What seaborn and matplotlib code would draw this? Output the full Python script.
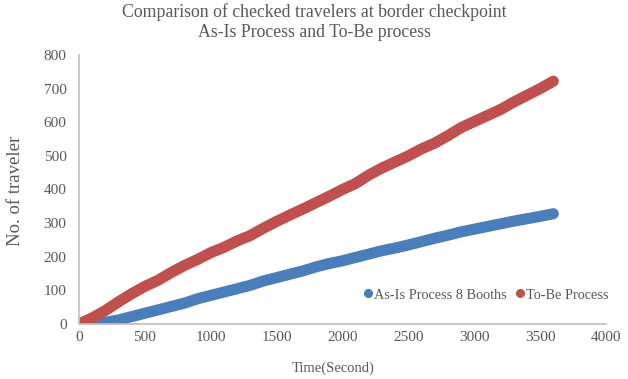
import matplotlib
matplotlib.use("Agg")
import matplotlib.pyplot as plt
import seaborn as sns
import pandas as pd
from matplotlib.lines import Line2D

sns.set_theme(style="white")
plt.rcParams['font.family'] = ['Liberation Serif', 'DejaVu Serif']

tobe_time = [0, 100, 200, 300, 400, 500, 600, 700, 800, 900, 1000, 1100, 1200, 1300,
             1400, 1500, 1600, 1700, 1800, 1900, 2000, 2100, 2200, 2300, 2400, 2500,
             2600, 2700, 2800, 2900, 3000, 3100, 3200, 3300, 3400, 3500, 3600]
tobe_count = [0, 18, 40, 66, 90, 112, 130, 153, 174, 192, 212, 228, 247, 263,
              285, 305, 324, 342, 361, 380, 400, 418, 443, 464, 482, 500,
              521, 538, 560, 584, 602, 620, 638, 660, 680, 700, 722]

asis_time = [130, 200, 300, 400, 500, 600, 700, 800, 900, 1000, 1100, 1200, 1300,
             1400, 1500, 1600, 1700, 1800, 1900, 2000, 2100, 2200, 2300, 2400, 2500,
             2600, 2700, 2800, 2900, 3000, 3100, 3200, 3300, 3400, 3500, 3600]
asis_count = [0, 5, 12, 22, 32, 42, 52, 62, 75, 85, 95, 105, 115,
              128, 138, 148, 158, 170, 180, 188, 198, 208, 218, 226, 235,
              245, 255, 264, 274, 282, 290, 298, 306, 313, 320, 328]

series_names = ["As-Is Process 8 Booths", "To-Be Process"]
colors = ["#4a7ebb", "#c0504d"]
x_ticks = [0, 500, 1000, 1500, 2000, 2500, 3000, 3500, 4000]
y_ticks = [0, 100, 200, 300, 400, 500, 600, 700, 800]

TXT = "#595959"
W, H = 628, 379

df = pd.concat([
    pd.DataFrame({"t": asis_time, "n": asis_count, "s": series_names[0]}),
    pd.DataFrame({"t": tobe_time, "n": tobe_count, "s": series_names[1]}),
])

fig = plt.figure(figsize=(W / 100, H / 100), dpi=100)
ax = fig.add_axes([79 / W, 1 - 324 / H, (606 - 79) / W, (324 - 55) / H])

sns.lineplot(data=df, x="t", y="n", hue="s", palette=colors, ax=ax,
             linewidth=8, legend=False, sort=False)
for ln in ax.lines:
    ln.set_solid_capstyle("round")
    ln.set_solid_joinstyle("round")

ax.set_xlim(0, 4000)
ax.set_ylim(0, 800)
ax.set_xticks(x_ticks)
ax.set_yticks(y_ticks)
ax.tick_params(axis="both", length=0, labelsize=11, colors=TXT)
ax.tick_params(axis="y", pad=9)
ax.tick_params(axis="x", pad=5)
for sp in ["top", "right"]:
    ax.spines[sp].set_visible(False)
for sp in ["left", "bottom"]:
    ax.spines[sp].set_color("#bfbfbf")
    ax.spines[sp].set_linewidth(1.2)
ax.set_xlabel("")
ax.set_ylabel("")

fig.text(333 / W, 1 - 368 / H, "Time(Second)", fontsize=10.5, color=TXT,
         ha="center", va="center")
fig.text(15 / W, 1 - 191 / H, "No. of traveler", fontsize=13.5, color=TXT,
         ha="center", va="center", rotation=90)
fig.text(314 / W, 1 - 22 / H,
         "Comparison of checked travelers at border checkpoint\nAs-Is Process and To-Be process",
         fontsize=12.8, color=TXT, ha="center", va="center", linespacing=1.25)

handles = [Line2D([], [], marker="o", linestyle="", color=c, markersize=5.5) for c in colors]
leg = ax.legend(handles, series_names, loc="center left",
                bbox_to_anchor=((362 - 79) / 527, (324 - 295) / 269),
                ncol=2, frameon=False, fontsize=10.3, handletextpad=0.05,
                handlelength=0.8, columnspacing=0.5, labelcolor=TXT,
                borderaxespad=0, borderpad=0)

fig.savefig("out.png", dpi=100)
